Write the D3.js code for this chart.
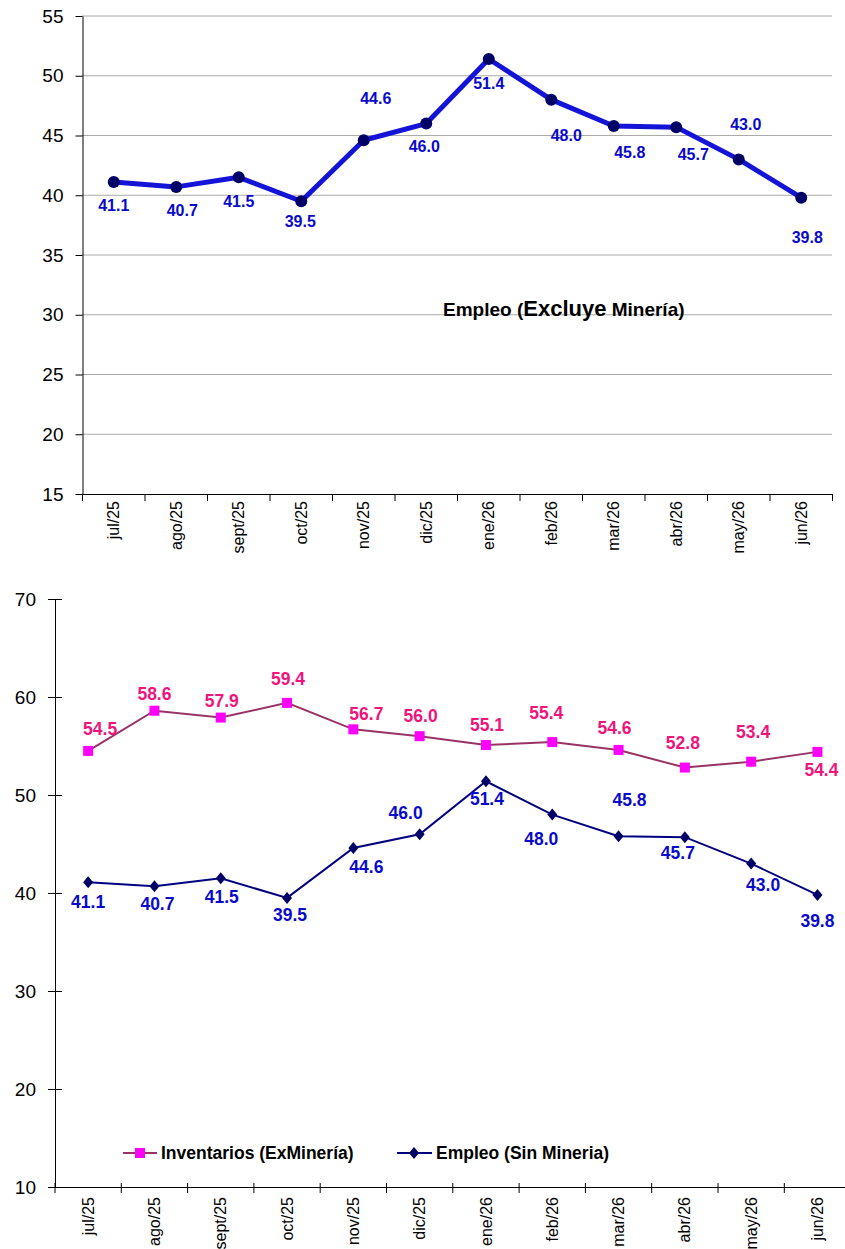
<!DOCTYPE html>
<html><head><meta charset="utf-8">
<script src="https://cdn.jsdelivr.net/npm/d3@7"></script>
<style>body{margin:0;background:#fff}svg{display:block;font-family:"Liberation Sans",Arial,sans-serif}</style>
</head><body>
<svg id="c" width="845" height="1249"></svg>
<script>
const months = ["jul/25","ago/25","sept/25","oct/25","nov/25","dic/25","ene/26","feb/26","mar/26","abr/26","may/26","jun/26"];
const empleo = [41.1,40.7,41.5,39.5,44.6,46.0,51.4,48.0,45.8,45.7,43.0,39.8];
const inventarios = [54.5,58.6,57.9,59.4,56.7,56.0,55.1,55.4,54.6,52.8,53.4,54.4];
const topTicks = [15,20,25,30,35,40,45,50,55];
const botTicks = [10,20,30,40,50,60,70];

// label placement (style)
const topLblDx = [0,6,0,-1,12,-2,0,15,16,17,7,6];
const topLblDy = [23,24,24,20,-42,23,24,36,26,27,-35,40];
const invLblDx = [12,0,1,1,13,1,1,-6,-4,-2,2,4];
const invLblDy = [-22,-17,-17,-24,-15,-20,-20,-29,-22,-25,-30,18];
const empLblDx = [0,3,1,3,13,-14,1,-11,11,-7,12,0];
const empLblDy = [20,18,19,17,19,-21,18,24,-36,16,21,26];

const svg = d3.select("#c");
const F = '"Liberation Sans",Arial,sans-serif';
const diamond = "M0,-6L5,0L0,6L-5,0Z";

// ---------- TOP CHART ----------
{
  const L=82.5, R=832.5, T=16, B=494;
  const x = d3.scaleBand().domain(months).range([L,R]);
  const y = d3.scaleLinear().domain([15,55]).range([B,T]);
  const g = svg.append("g");
  g.selectAll("line.grid").data(topTicks.filter(d=>d>15)).join("line")
    .attr("x1",L).attr("x2",R).attr("y1",d=>y(d)).attr("y2",d=>y(d))
    .attr("stroke","#555").attr("stroke-width",1).attr("stroke-dasharray","1,1");
  const ya = g.append("g").attr("transform",`translate(${L},0)`)
    .call(d3.axisLeft(y).tickValues(topTicks).tickSize(7).tickSizeOuter(0));
  ya.select(".domain").attr("stroke","#000");
  ya.selectAll("text").attr("font-size",19).attr("font-family",F).attr("fill","#000").attr("x",-19);
  const xa = g.append("g").attr("transform",`translate(0,${B})`)
    .call(d3.axisBottom(x).tickSize(0).tickSizeOuter(0));
  xa.select(".domain").attr("stroke","#000");
  xa.selectAll("text").attr("font-size",16).attr("font-family",F).attr("fill","#000")
    .attr("text-anchor","end").attr("transform","rotate(-90)").attr("x",-7).attr("y",0).attr("dy","0.35em");
  g.selectAll("line.bt").data(d3.range(months.length+1)).join("line")
    .attr("x1",i=>L+i*x.step()).attr("x2",i=>L+i*x.step()).attr("y1",B).attr("y2",B+7).attr("stroke","#000");
  const line = d3.line().x((d,i)=>x(months[i])+x.bandwidth()/2).y(d=>y(d));
  g.append("path").datum(empleo).attr("d",line).attr("fill","none").attr("stroke","#1414D8").attr("stroke-width",5).attr("stroke-linejoin","round");
  g.selectAll("circle").data(empleo).join("circle")
    .attr("cx",(d,i)=>x(months[i])+x.bandwidth()/2).attr("cy",d=>y(d)).attr("r",6).attr("fill","#000066");
  g.selectAll("text.lbl").data(empleo).join("text").attr("class","lbl")
    .attr("x",(d,i)=>x(months[i])+x.bandwidth()/2+topLblDx[i]).attr("y",(d,i)=>y(d)+topLblDy[i]).attr("dy","0.35em")
    .attr("text-anchor","middle").attr("font-size",16).attr("font-weight","bold").attr("fill","#0A0ACC")
    .text(d=>d.toFixed(1));
  const t = g.append("text").attr("x",443).attr("y",316).attr("font-weight","bold").attr("fill","#000").attr("font-family",F);
  t.append("tspan").attr("font-size",19).text("Empleo (");
  t.append("tspan").attr("font-size",22).text("Excluye");
  t.append("tspan").attr("font-size",19).text(" Minería)");
}

// ---------- BOTTOM CHART ----------
{
  const L=55, T=599, B=1187;
  const step=66.3;
  const R=L+step*12;
  const x = d3.scaleBand().domain(months).range([L,R]);
  const y = d3.scaleLinear().domain([10,70]).range([B,T]);
  const g = svg.append("g");
  const ya = g.append("g").attr("transform",`translate(${L},0)`)
    .call(d3.axisLeft(y).tickValues(botTicks).tickSize(7).tickSizeOuter(0));
  ya.select(".domain").attr("stroke","#000");
  ya.selectAll(".tick line").attr("x1",7);
  ya.selectAll("text").attr("font-size",19).attr("font-family",F).attr("fill","#000").attr("x",-19);
  const xa = g.append("g").attr("transform",`translate(0,${B})`)
    .call(d3.axisBottom(x).tickSize(0).tickSizeOuter(0));
  xa.select(".domain").attr("stroke","#000");
  xa.selectAll("text").attr("font-size",16).attr("font-family",F).attr("fill","#000")
    .attr("text-anchor","end").attr("transform","rotate(-90)").attr("x",-10).attr("y",0).attr("dy","0.35em");
  g.selectAll("line.bt").data(d3.range(months.length+1)).join("line")
    .attr("x1",i=>L+i*x.step()).attr("x2",i=>L+i*x.step()).attr("y1",B-4).attr("y2",B+6).attr("stroke","#000");
  const cx = i=>x(months[i])+x.bandwidth()/2;
  const line = d3.line().x((d,i)=>cx(i)).y(d=>y(d));
  g.append("path").datum(inventarios).attr("d",line).attr("fill","none").attr("stroke","#993366").attr("stroke-width",2);
  g.selectAll("rect.inv").data(inventarios).join("rect").attr("class","inv")
    .attr("x",(d,i)=>cx(i)-5).attr("y",d=>y(d)-5).attr("width",10).attr("height",10).attr("fill","#FF00FF");
  g.selectAll("text.il").data(inventarios).join("text").attr("class","il")
    .attr("x",(d,i)=>cx(i)+invLblDx[i]).attr("y",(d,i)=>y(d)+invLblDy[i]).attr("dy","0.35em")
    .attr("text-anchor","middle").attr("font-size",17.5).attr("font-weight","bold").attr("fill","#F0147C")
    .text(d=>d.toFixed(1));
  g.append("path").datum(empleo).attr("d",line).attr("fill","none").attr("stroke","#000080").attr("stroke-width",2);
  g.selectAll("path.ed").data(empleo).join("path").attr("class","ed")
    .attr("d",diamond).attr("transform",(d,i)=>`translate(${cx(i)},${y(d)})`).attr("fill","#000066");
  g.selectAll("text.el").data(empleo).join("text").attr("class","el")
    .attr("x",(d,i)=>cx(i)+empLblDx[i]).attr("y",(d,i)=>y(d)+empLblDy[i]).attr("dy","0.35em")
    .attr("text-anchor","middle").attr("font-size",17.5).attr("font-weight","bold").attr("fill","#0A0ACC")
    .text(d=>d.toFixed(1));
  const lg = g.append("g").attr("font-family",F);
  const ly = 1153;
  lg.append("line").attr("x1",123).attr("x2",157).attr("y1",ly).attr("y2",ly).attr("stroke","#993366").attr("stroke-width",2);
  lg.append("rect").attr("x",135).attr("y",ly-5).attr("width",10).attr("height",10).attr("fill","#FF00FF");
  lg.append("text").attr("x",161).attr("y",ly).attr("dy","0.35em").attr("font-size",17.5).attr("font-weight","bold").text("Inventarios (ExMinería)");
  lg.append("line").attr("x1",397).attr("x2",432).attr("y1",ly).attr("y2",ly).attr("stroke","#000080").attr("stroke-width",2);
  lg.append("path").attr("d",diamond).attr("transform",`translate(414,${ly})`).attr("fill","#000066");
  lg.append("text").attr("x",436).attr("y",ly).attr("dy","0.35em").attr("font-size",17.5).attr("font-weight","bold").text("Empleo (Sin Mineria)");
}
</script>
</body></html>
